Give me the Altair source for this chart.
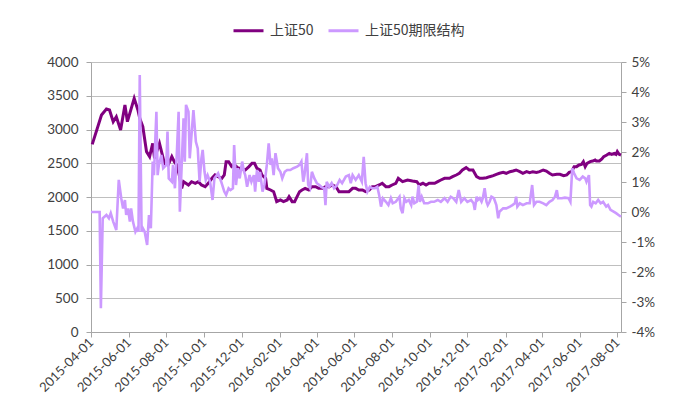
import altair as alt
import pandas as pd

START = "2015-04-01"
NAMES = ["上证50", "上证50期限结构"]
COLORS = ["#800080", "#CC99FF"]

# 上证50 (left axis) : days since 2015-04-01, index level
sz50_day = [2, 17, 25, 30, 36, 41, 48, 55, 59, 70, 76, 79, 84, 90, 95, 100, 103, 111, 119,
            125, 131, 135, 139, 143, 147, 150, 158, 163, 169, 174, 179, 185, 190, 196, 201, 206,
            212, 216, 219, 223, 228, 233, 239, 244, 250, 256, 261, 265, 269, 274, 277, 283, 285,
            291, 296, 301, 307, 312, 318, 321, 326, 330, 334, 338, 342, 347, 353, 358, 364, 369,
            375, 380, 386, 391, 397, 402, 407, 413, 418, 424, 429, 434, 440, 445, 451, 456, 461,
            467, 472, 478, 483, 488, 494, 498, 505, 513, 521, 528, 532, 538, 543, 548, 557, 562,
            567, 573, 581, 586, 592, 597, 602, 608, 613, 619, 625, 630, 635, 641, 646, 652, 657,
            662, 668, 673, 679, 684, 689, 695, 700, 706, 711, 716, 722, 727, 733, 738, 743, 748,
            755, 760, 766, 771, 775, 779, 783, 787, 791, 795, 798, 801, 804, 809, 813, 817, 819,
            824, 828, 831, 836, 840, 844, 848, 851, 853, 856, 859]
sz50_val = [2780, 3215, 3304, 3289, 3116, 3190, 2993, 3363, 3116, 3462, 3289, 3165, 3042, 2672,
            2598, 2795, 2573, 2795, 2499,
            2474, 2598, 2524, 2474, 2326, 2128, 2227, 2178, 2227, 2203, 2227, 2178, 2153, 2203,
            2277, 2326, 2301, 2277, 2326, 2524, 2524, 2450, 2474, 2425, 2425, 2400, 2450, 2499,
            2499, 2425, 2400, 2326, 2277, 2128, 2104, 2079, 1931, 1956, 1931, 1956, 2005, 1931,
            1931, 2005, 2079, 2104, 2128, 2104, 2153, 2153, 2128,
            2128, 2153, 2153, 2178, 2153, 2079, 2079, 2079, 2079, 2128, 2128, 2104, 2104, 2079,
            2104, 2153, 2153, 2178, 2203, 2153, 2153, 2178, 2203, 2277, 2227, 2252, 2237, 2227,
            2178, 2203, 2178, 2203, 2203, 2227, 2252, 2277, 2277, 2301, 2326, 2351, 2400, 2435,
            2400, 2400, 2301, 2277, 2277, 2286, 2301, 2316, 2336, 2351, 2365, 2351, 2375, 2385,
            2400, 2375, 2351, 2375, 2361, 2375, 2365, 2375, 2400, 2385, 2351, 2326,
            2336, 2336, 2316, 2326, 2365, 2375, 2450, 2450, 2474, 2484, 2524, 2450, 2499, 2524,
            2533, 2548, 2533, 2533, 2563, 2598, 2622, 2647, 2632, 2647, 2632, 2672, 2632, 2622]

# 上证50期限结构 (right axis, %) : days since 2015-04-01
term_day = [0, 14, 16, 19, 25, 29, 32, 36, 41, 45, 49, 52, 55, 57, 60, 63, 65, 68, 72, 75, 77,
            79, 82, 84, 87, 91, 94, 97, 100, 102, 106, 108, 110, 114, 117, 122, 124,
            126, 131, 133, 136, 139, 142, 144, 147, 150, 152, 154, 158, 160, 166, 170, 173, 176,
            179, 181, 184, 186, 189, 193, 197, 200, 204, 206, 211, 216, 219, 223, 226, 230, 232,
            235, 238, 241, 245, 248,
            250, 253, 257, 260, 264, 266, 269, 272, 274, 278, 281, 285, 288, 291, 293, 296, 299,
            303, 307, 310, 314, 318, 323, 328, 334, 338, 341, 344, 346, 350, 352, 355, 358, 362,
            366, 370, 373,
            378, 380, 382, 386, 390, 394, 399, 403, 407, 413, 418, 421, 424, 429, 434, 439, 442,
            445, 448, 452, 456, 460, 464, 467, 470, 473, 478, 482, 486, 489, 494,
            500, 502, 505, 508, 511, 515, 519, 521, 524, 528, 531, 533, 536, 540, 546, 551, 556,
            562, 567, 573, 578, 583, 587, 592, 596, 600, 605, 610, 616, 620, 622,
            625, 627, 630, 633, 635, 638, 641, 643, 646, 649, 653, 657, 660, 662, 668, 673, 679,
            683, 687, 689, 691, 695, 700, 706, 711, 715, 718, 722, 727, 733, 738, 743, 748,
            752, 755, 757, 763, 768, 774, 777, 780, 783, 787, 792, 797, 801, 803, 807, 809, 811,
            814, 818, 822, 826, 830, 835, 838, 842, 847, 851, 855, 859]
term_val = [0.0, 0.0, -3.21, -0.21, -0.10, -0.21, -0.04, -0.32, -0.60, 1.07, 0.46, 0.12, 0.40,
            -0.10, 0.12, -0.32, 0.12, -0.32, -0.66, -0.54, -0.66, 4.57, -0.66, -0.54, -0.66,
            -1.10, -0.10, -0.54, 1.68, 1.23, 3.34, 1.23, 1.57, 1.90, 1.46, 1.57, 2.68,
            1.12, 1.01, 1.57, 0.79, 1.90, 3.34, 0.01, 1.57, 3.12, 1.68, 3.57, 3.34, 1.79, 3.40,
            2.34, 2.12, 1.01, 1.79, 2.07, 1.34, 1.07, 1.23, 1.01, 0.40, 1.12, 1.23, 1.29, 1.01,
            0.68, 0.57, 0.79, 0.73, 0.79, 2.23, 0.90, 1.46, 1.12, 1.68, 1.34,
            1.23, 0.84, 1.23, 1.01, 1.23, 0.68, 1.40, 1.01, 1.34, 0.68, 0.90, 1.57, 2.29, 1.57,
            1.79, 1.23, 1.96, 1.46, 1.34, 1.12, 1.34, 1.40, 1.40, 1.46, 1.51, 1.57, 1.68, 1.01,
            1.23, 1.96, 0.90, 0.79, 1.34, 1.12, 0.96, 0.90, 0.84,
            0.79, 0.23, 1.01, 0.84, 0.96, 0.79, 0.90, 1.07, 0.96, 1.18, 1.23, 0.96, 1.23, 1.07,
            1.23, 1.01, 1.84, 0.96, 0.68, 0.84, 0.79, 0.79, 0.84, 0.57, 0.18, 0.46, 0.34, 0.23,
            0.46, 0.29, 0.34,
            0.51, 0.12, -0.04, 0.46, 0.34, 0.40, 0.23, 0.51, 0.29, 0.34, 0.90, 0.34, 0.51, 0.29,
            0.29, 0.34, 0.34, 0.40, 0.34, 0.46, 0.34, 0.51, 0.46, 0.34, 0.73, 0.34, 0.46, 0.34,
            0.40, 0.29, 0.07,
            0.51, 0.40, 0.46, 0.34, 0.46, 0.79, 0.34, 0.23, 0.34, 0.51, 0.46, 0.23, -0.21, 0.01,
            0.12, 0.12, 0.18, 0.23, 0.29, 0.51, 0.18, 0.29, 0.23, 0.29, 0.29, 0.90, 0.23, 0.34,
            0.34, 0.29, 0.23, 0.34, 0.40,
            0.51, 0.73, 0.46, 0.46, 0.48, 0.46, 0.34, 1.46, 1.29, 1.12, 1.07, 1.18, 1.12, 1.01,
            1.23, 0.23, 0.18, 0.34, 0.29, 0.40, 0.29, 0.34, 0.18, 0.23, 0.07, 0.01, -0.04, -0.10,
            -0.16]

left_ticks = [0, 500, 1000, 1500, 2000, 2500, 3000, 3500, 4000]
right_ticks = [-4, -3, -2, -1, 0, 1, 2, 3, 4, 5]
tick_dates = [(2015, 4), (2015, 6), (2015, 8), (2015, 10), (2015, 12), (2016, 2), (2016, 4),
              (2016, 6), (2016, 8), (2016, 10), (2016, 12), (2017, 2), (2017, 4), (2017, 6),
              (2017, 8)]

base = pd.Timestamp(START)
df1 = pd.DataFrame({"date": base + pd.to_timedelta(sz50_day, unit="D"),
                    "value": sz50_val, "series": NAMES[0]})
df2 = pd.DataFrame({"date": base + pd.to_timedelta(term_day, unit="D"),
                    "value": term_val, "series": NAMES[1]})
df1["date"] = df1["date"].dt.strftime("%Y-%m-%d")
df2["date"] = df2["date"].dt.strftime("%Y-%m-%d")

xaxis = alt.Axis(title=None, values=[alt.DateTime(year=y, month=m, date=1) for y, m in tick_dates],
                 format="%Y-%m-%d", labelAngle=-45, labelAlign="right", labelBaseline="middle",
                 grid=False, tickSize=5, labelPadding=3, labelFontSize=13,
                 labelOverlap=False, labelBound=False, labelFlush=False)
xscale = alt.Scale(domain=[alt.DateTime(year=2015, month=4, date=1),
                           alt.DateTime(year=2017, month=8, date=7)])
X = alt.X("date:T", scale=xscale, axis=xaxis)

legend = alt.Legend(title=None, orient="none", legendX=141, legendY=-48, direction="horizontal",
                    symbolType="stroke", symbolStrokeWidth=3, symbolSize=900,
                    labelFont="Noto Sans CJK SC", labelFontSize=14, labelColor="#404040",
                    columnPadding=8, labelOffset=5)
color = alt.Color("series:N", scale=alt.Scale(domain=NAMES, range=COLORS), legend=legend)

line1 = alt.Chart(df1).mark_line(strokeWidth=3).encode(
    x=X,
    y=alt.Y("value:Q", scale=alt.Scale(domain=[0, 4000]),
            axis=alt.Axis(title=None, values=left_ticks, grid=True, orient="left", format="d",
                          tickSize=5, labelPadding=8, labelFontSize=13.5)),
    color=color,
)
line2 = alt.Chart(df2).mark_line(strokeWidth=2.6).encode(
    x=X,
    y=alt.Y("value:Q", scale=alt.Scale(domain=[-4, 5]),
            axis=alt.Axis(title=None, values=right_ticks, grid=False, orient="right",
                          labelExpr="datum.value + '%'", tickSize=5, labelPadding=5,
                          labelFontSize=13.5)),
    color=color,
)

chart = alt.layer(line1, line2).resolve_scale(y="independent").properties(
    width=530, height=270,
    padding={"left": 91, "top": 62, "right": 54, "bottom": 87},
    autosize=alt.AutoSizeParams(type="none"),
).configure_view(stroke=None).configure_axis(
    labelFont="Lato", labelFontSize=13, labelColor="#404040",
    domainColor="#A6A6A6", tickColor="#A6A6A6", gridColor="#BFBFBF",
)

chart.save("out.html", embed_options={"renderer": "svg", "actions": False})
